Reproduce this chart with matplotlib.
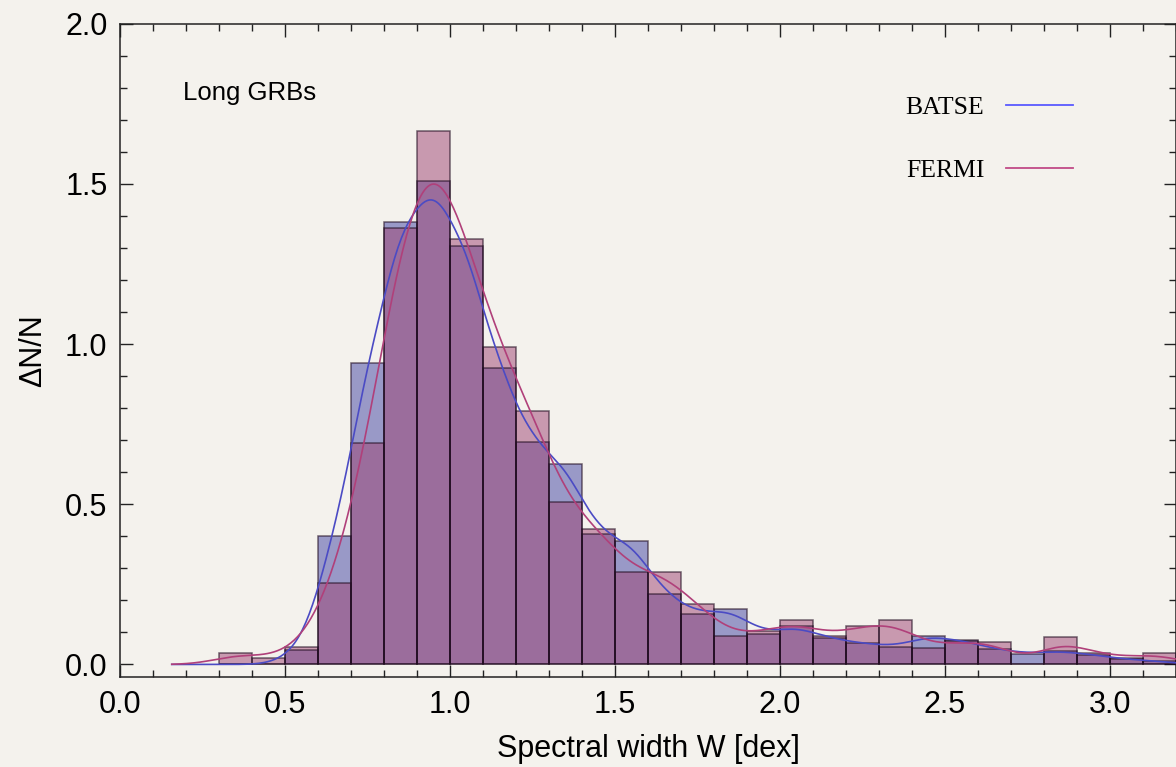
import numpy as np
import matplotlib
matplotlib.use("Agg")
import matplotlib.pyplot as plt
from matplotlib.ticker import MultipleLocator

# ------------------------------------------------------------
# Histogram data (bin width 0.1 dex, left edges from 0.3)
# ------------------------------------------------------------

bin_edges = np.round(np.arange(0.3, 3.21, 0.1), 2)

batse = [0.0, 0.0, 0.045, 0.40, 0.94, 1.38, 1.51, 1.305, 0.925, 0.695,
         0.625, 0.408, 0.385, 0.221, 0.158, 0.174, 0.096, 0.12, 0.082, 0.066,
         0.056, 0.09, 0.075, 0.049, 0.034, 0.042, 0.03, 0.016, 0.01]

fermi = [0.037, 0.02, 0.055, 0.255, 0.69, 1.362, 1.665, 1.328, 0.992, 0.79,
         0.507, 0.423, 0.289, 0.289, 0.1875, 0.0875, 0.103, 0.1375, 0.0875, 0.12,
         0.1375, 0.052, 0.072, 0.071, 0.0, 0.086, 0.035, 0.021, 0.036]

labels = ["BATSE", "FERMI"]

BG = "#f4f2ed"
BAR_COLORS = ["#4042a2", "#9e4272"]
LINE_COLORS = ["#4b4bc4", "#b0407a"]
LEGEND_COLORS = ["#5a5aff", "#c04a86"]
KERNEL_WIDTHS = [0.062, 0.075]


def smooth_hist(edges, heights, x, sigma=0.06):
    """Gaussian-kernel smoothing of a binned distribution."""
    centers = 0.5 * (edges[:-1] + edges[1:])
    width = edges[1] - edges[0]
    h = np.asarray(heights)[:, None]
    k = np.exp(-0.5 * ((x[None, :] - centers[:, None]) / sigma) ** 2)
    k /= sigma * np.sqrt(2 * np.pi)
    return (h * width * k).sum(axis=0)


plt.rcParams["font.family"] = ["Liberation Sans", "DejaVu Sans"]

fig = plt.figure(figsize=(11.76, 7.67), dpi=100, facecolor=BG)
ax = fig.add_axes([0.102, 0.117, 0.898, 0.852], facecolor=BG)

widths = np.diff(bin_edges)
for vals, col in zip([batse, fermi], BAR_COLORS):
    ax.bar(bin_edges[:-1], vals, width=widths, align="edge",
           color=col, alpha=0.5, edgecolor="none", zorder=2)
    ax.bar(bin_edges[:-1], vals, width=widths, align="edge",
           fill=False, edgecolor=(0.12, 0.04, 0.12, 0.62), linewidth=1.1,
           zorder=3)

xs = np.linspace(0.157, 3.2, 600)
for vals, col, sig in zip([batse, fermi], LINE_COLORS, KERNEL_WIDTHS):
    ax.plot(xs, smooth_hist(bin_edges, vals, xs, sig), color=col, lw=1.2,
            zorder=4)

# legend: label text first, line sample after it
handles = [plt.Line2D([], [], color=c, lw=1.3) for c in LEGEND_COLORS]
leg = ax.legend(handles, labels, loc="upper left",
                bbox_to_anchor=(0.722, 0.925), frameon=False,
                markerfirst=False, handlelength=2.6, handletextpad=0.85,
                labelspacing=1.55, prop={"family": "Liberation Serif",
                                         "size": 18.5})

ax.text(0.19, 1.785, "Long GRBs", fontsize=18.5, va="center", ha="left")

ax.set_xlim(0, 3.2)
ax.set_ylim(-0.04, 2.0)
ax.xaxis.set_major_locator(MultipleLocator(0.5))
ax.xaxis.set_minor_locator(MultipleLocator(0.1))
ax.yaxis.set_major_locator(MultipleLocator(0.5))
ax.yaxis.set_minor_locator(MultipleLocator(0.1))
ax.tick_params(which="both", direction="in", top=True, right=True,
               labelsize=22, width=1.0, color="#222222", pad=9)
ax.tick_params(which="major", length=9)
ax.tick_params(which="minor", length=5)
for s in ax.spines.values():
    s.set_linewidth(1.1)
    s.set_color("#222222")

ax.set_xlabel("Spectral width W [dex]", fontsize=22, labelpad=10)
ax.set_ylabel("ΔN/N", fontsize=22, labelpad=12)

fig.savefig("out.png", dpi=100, facecolor=BG)
